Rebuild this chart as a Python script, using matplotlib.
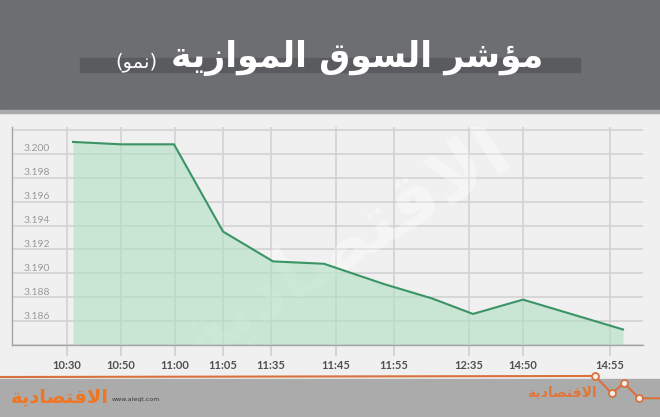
import matplotlib
matplotlib.use('Agg')
import matplotlib.pyplot as plt
from matplotlib.patches import Rectangle

# data
times = ['10:30', '10:50', '11:00', '11:05', '11:35', '11:45', '11:55', '12:35', '14:50', '14:55']
tick_pos = [67, 121, 175, 223, 271, 336, 394, 469, 523, 610]
point_pos = [73, 121, 174, 223, 273, 324, 384, 432, 473, 523, 623]
values = [3.2010, 3.2008, 3.2008, 3.1935, 3.1910, 3.1908, 3.1891, 3.1879, 3.1866, 3.1878, 3.1853]
y_labels = [3.186, 3.188, 3.190, 3.192, 3.194, 3.196, 3.198, 3.200]
y_grid = [3.184, 3.186, 3.188, 3.190, 3.192, 3.194, 3.196, 3.198, 3.200, 3.202]

title = 'مؤشر السوق الموازية'
subtitle = '(نمو)'
brand = 'الاقتصادية'

# crude arabic shaping: matplotlib has no shaping / bidi
DUAL = {'ش': 'ﺵﺶﺷﺸ', 'ل': 'ﻝﻞﻟﻠ', 'س': 'ﺱﺲﺳﺴ', 'ق': 'ﻕﻖﻗﻘ', 'م': 'ﻡﻢﻣﻤ',
        'ي': 'ﻱﻲﻳﻴ', 'ن': 'ﻥﻦﻧﻨ', 'ت': 'ﺕﺖﺗﺘ', 'ص': 'ﺹﺺﺻﺼ'}
RIGHT = {'ا': 'ﺍﺎ', 'ؤ': 'ﺅﺆ', 'ر': 'ﺭﺮ', 'و': 'ﻭﻮ', 'ز': 'ﺯﺰ', 'ة': 'ﺓﺔ', 'د': 'ﺩﺪ'}


def shape(s):
    out = []
    i = 0
    while i < len(s):
        ch = s[i]
        prev = s[i - 1] if i > 0 else ''
        nxt = s[i + 1] if i + 1 < len(s) else ''
        pj = prev in DUAL
        if ch == 'ل' and nxt == 'ا':
            out.append('ﻼ' if pj else 'ﻻ')
            i += 2
            continue
        if ch in DUAL:
            nj = nxt in DUAL or nxt in RIGHT
            f = DUAL[ch]
            out.append(f[3] if pj and nj else f[1] if pj else f[2] if nj else f[0])
        elif ch in RIGHT:
            out.append(RIGHT[ch][1] if pj else RIGHT[ch][0])
        else:
            out.append({'(': ')', ')': '('}.get(ch, ch))
        i += 1
    return ''.join(reversed(out))


plt.rcParams['font.family'] = ['DejaVu Sans']

fig = plt.figure(figsize=(6.6, 4.17), dpi=100, facecolor='#f0f0f0')

# background decorations in pixel coords
bg = fig.add_axes([0, 0, 1, 1])
bg.set_xlim(0, 660)
bg.set_ylim(417, 0)
bg.axis('off')
bg.add_patch(Rectangle((0, 0), 660, 110, color='#6d6e71'))
bg.add_patch(Rectangle((0, 110), 660, 3, color='#a9aaac'))
bg.add_patch(Rectangle((80, 58), 500, 14, color='#5a5b5e'))
bg.text(357, 58, shape(title), color='white', fontsize=25, fontweight='bold',
        ha='center', va='center')
bg.text(136, 62, shape(subtitle), color='white', fontsize=14,
        ha='center', va='center')

# footer
bg.add_patch(Rectangle((0, 379), 660, 38, color='#ababab'))
bg.plot([0, 595, 611.7, 624, 639.3, 660], [377, 376, 393.3, 383.3, 398.3, 398.3],
        color='#d9713d', lw=1.5, solid_joinstyle='round')
bg.plot([595, 611.7, 624, 639.3], [376, 393.3, 383.3, 398.3], 'o', ms=5,
        mfc='#f0f0f0', mec='#d9713d', mew=1.3)
bg.text(60, 397, shape(brand), color='#ef7622', fontsize=14, fontweight='bold',
        ha='center', va='center')
bg.text(112, 400, 'www.aleqt.com', color='#3a3a3a', fontsize=4.5, ha='left', va='center')
bg.text(562, 393, shape(brand), color='#e0763a', fontsize=10, fontweight='bold',
        ha='center', va='center')

# chart
ax = fig.add_axes([12 / 660, 72 / 417, 631 / 660, 218 / 417])
ax.set_facecolor('none')
ax.set_xlim(12, 643)
ax.set_ylim(3.184, 3.20225)

ax.set_yticks(y_grid)
ax.set_xticks(tick_pos)
ax.set_xticklabels(times, fontfamily='Lato', fontweight='bold')
ax.tick_params(axis='y', length=0, labelleft=False)
ax.tick_params(axis='x', length=8, width=1.2, color='#cfcfcf', labelsize=8,
               labelcolor='#505050', pad=3)
ax.grid(color='#d2d2d2', lw=1.2)
ax.set_axisbelow(True)
for side in ['top', 'right']:
    ax.spines[side].set_visible(False)
for side in ['left', 'bottom']:
    ax.spines[side].set_color('#a5a5a5')
    ax.spines[side].set_linewidth(1)

wm = ax.text(345, 3.1925, shape(brand), color='white', alpha=0.35, fontsize=54,
             fontweight='bold', rotation=32, ha='center', va='center', zorder=1)
wm.set_clip_on(True)

ax.fill_between(point_pos, values, 3.184, color='#afdec0', alpha=0.6, lw=0, zorder=2)
ax.plot(point_pos, values, color='#3a9465', lw=1.5, zorder=3)

for v in y_labels:
    ax.text(37, v + 0.00005, f'{v:.3f}', color='#9a9a9a', fontsize=7.5,
            fontfamily='Lato', ha='center', va='bottom')

fig.savefig('out.png', dpi=100, facecolor=fig.get_facecolor())
